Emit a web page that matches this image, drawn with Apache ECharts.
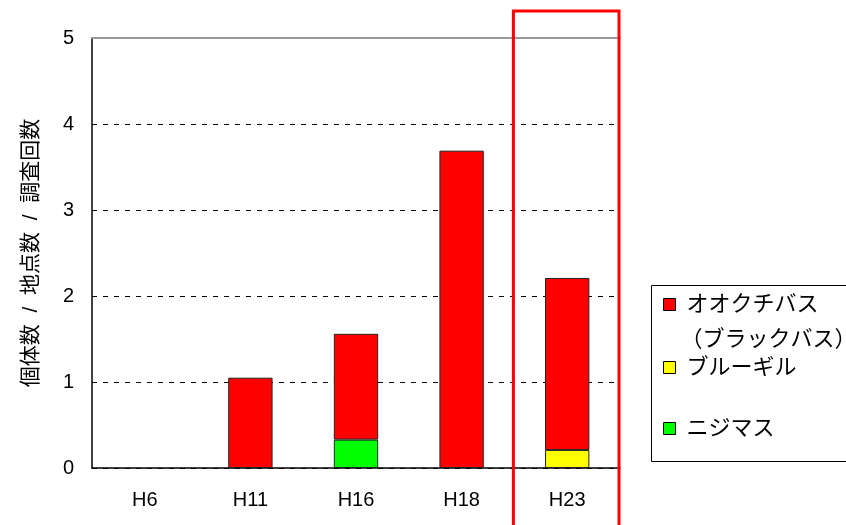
<!DOCTYPE html>
<html>
<head>
<meta charset="utf-8">
<script src="https://cdn.jsdelivr.net/npm/echarts@6/dist/echarts.min.js"></script>
<style>
  html, body { margin: 0; padding: 0; background: #fff; }
  #chart { width: 846px; height: 525px; }
</style>
</head>
<body>
<div id="chart"></div>
<script>
const categories = ['H6', 'H11', 'H16', 'H18', 'H23'];
// stacked from the bottom: ニジマス, ブルーギル, then オオクチバス on top
const trout = [null, null, 0.33, null, null];
const bluegill = [null, null, null, null, 0.21];
const largemouth = [null, 1.05, 1.23, 3.69, 2.0];
const yTicks = { min: 0, max: 5, interval: 1 };

const font = "'Liberation Sans', 'Noto Sans CJK JP', sans-serif";
const barBorder = { borderColor: '#222', borderWidth: 1 };
const legendText = { fontFamily: font, fontSize: 22, color: '#000', lineHeight: 35 };
const legendIcon = { borderColor: '#000', borderWidth: 1 };

var myChart = echarts.init(document.getElementById('chart'));

var option = {
  animation: false,
  textStyle: { fontFamily: font },
  grid: { left: 92, right: 226, top: 38, bottom: 57 },
  legend: [
    {
      // empty first line so the icon sits beside the second one
      data: ['オオクチバス'], left: 663, top: 304 - 52, padding: 0,
      icon: 'rect', itemWidth: 12, itemHeight: 12, itemStyle: legendIcon,
      formatter: function (name) { return ' \n ' + name + '\n（ブラックバス）'; },
      textStyle: legendText
    },
    {
      data: ['ブルーギル'], left: 663, top: 367 - 17, padding: 0,
      icon: 'rect', itemWidth: 12, itemHeight: 12, itemStyle: legendIcon,
      formatter: function (name) { return ' ' + name; },
      textStyle: legendText
    },
    {
      data: ['ニジマス'], left: 663, top: 428 - 17, padding: 0,
      icon: 'rect', itemWidth: 12, itemHeight: 12, itemStyle: legendIcon,
      formatter: function (name) { return ' ' + name; },
      textStyle: legendText
    }
  ],
  xAxis: [
    {
      type: 'category',
      data: categories,
      axisLine: { lineStyle: { color: '#000', width: 1.5 } },
      axisTick: { inside: true, length: 8, lineStyle: { color: '#000' } },
      axisLabel: { color: '#000', fontSize: 20, margin: 22, fontFamily: font }
    },
    {
      type: 'category',
      data: categories,
      position: 'top',
      axisLine: { lineStyle: { color: '#999', width: 2 } },
      axisTick: { show: false },
      axisLabel: { show: false }
    }
  ],
  yAxis: {
    type: 'value',
    min: yTicks.min,
    max: yTicks.max,
    interval: yTicks.interval,
    name: '個体数  /  地点数  /  調査回数',
    nameLocation: 'middle',
    nameGap: 50,
    nameTextStyle: { color: '#000', fontSize: 21, fontFamily: font },
    axisLine: { show: true, lineStyle: { color: '#000', width: 1.5 } },
    axisTick: { show: false },
    axisLabel: { color: '#000', fontSize: 20, margin: 18, fontFamily: font },
    splitLine: {
      show: true,
      lineStyle: {
        color: ['#000', '#000', '#000', '#000', '#000', 'rgba(0,0,0,0)'],
        type: [5, 6],
        width: 1
      }
    }
  },
  series: [
    {
      name: 'ニジマス', type: 'bar', stack: 'fish', barWidth: '42%',
      itemStyle: Object.assign({ color: '#00ff00' }, barBorder),
      data: trout
    },
    {
      name: 'ブルーギル', type: 'bar', stack: 'fish', barWidth: '42%',
      itemStyle: Object.assign({ color: '#ffff00' }, barBorder),
      data: bluegill
    },
    {
      name: 'オオクチバス', type: 'bar', stack: 'fish', barWidth: '42%',
      itemStyle: Object.assign({ color: '#ff0000' }, barBorder),
      data: largemouth
    }
  ]
};

myChart.setOption(option);

// red frame around the H23 category, legend box
var cx = myChart.convertToPixel({ xAxisIndex: 0 }, 'H23');
var c0 = myChart.convertToPixel({ xAxisIndex: 0 }, 'H18');
var half = (cx - c0) / 2;
myChart.setOption({
  graphic: [
    {
      type: 'rect', z: 100, silent: true,
      shape: { x: cx - half - 1, y: 11, width: half * 2, height: 540 },
      style: { fill: 'none', stroke: '#ff0000', lineWidth: 3 }
    },
    {
      type: 'rect', z: 1, silent: true,
      shape: { x: 651.5, y: 285.5, width: 220, height: 176 },
      style: { fill: '#fff', stroke: '#000', lineWidth: 1 }
    }
  ]
});

window.addEventListener('resize', () => {
  myChart.resize()
})
</script>
</body>
</html>
